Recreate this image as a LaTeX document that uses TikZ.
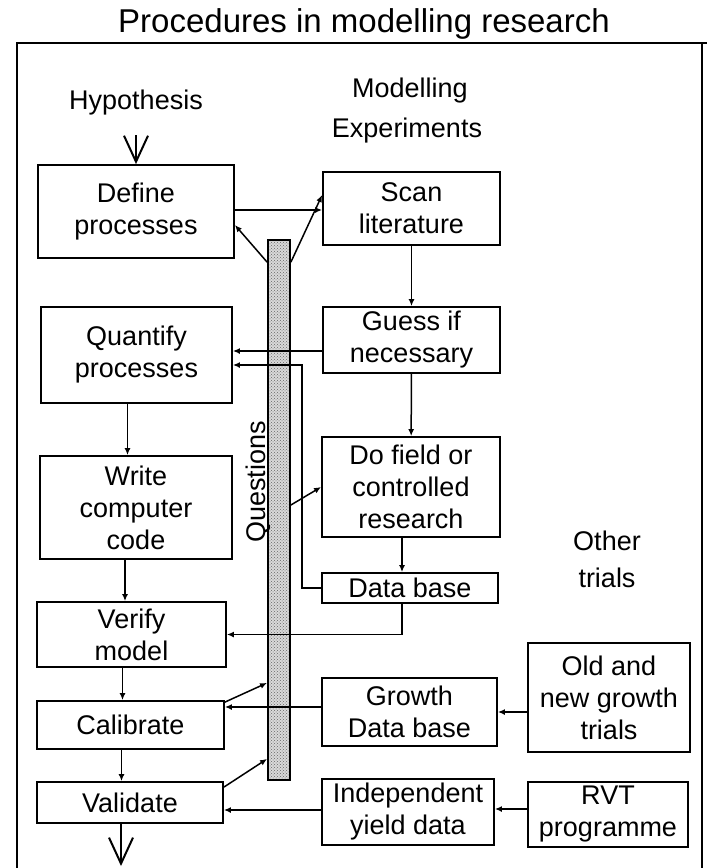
\documentclass[tikz,border=0pt]{standalone}
\usepackage{fontspec}
\setmainfont{Liberation Sans}
\usetikzlibrary{arrows.meta,patterns}

\begin{document}
\begin{tikzpicture}[x=1pt, y=-1pt,
    procbox/.style={rectangle, draw, line width=1.8pt, inner sep=0pt, align=center, font=\fontsize{27}{32}\selectfont},
    lbl/.style={font=\fontsize{27}{32}\selectfont, inner sep=0pt, anchor=base},
    arr/.style={-{Latex[length=7pt,width=6pt]}, line width=1.5pt},
    bigv/.style={-{Straight Barb[length=26pt,width=24pt,line width=2pt]}, line width=1.6pt}]
                \useasboundingbox (0,0) rectangle (707,868);

                % Title and frame
                \node[lbl, font=\fontsize{33}{38}\selectfont] (title) at (364,32) {Procedures in modelling research};
                \draw[line width=1.8pt] (17,868) -- (17,43) -- (707,43);
                \draw[line width=1.8pt] (702,43) -- (702,868);

                \node[lbl] (hyp) at (136,109) {Hypothesis};
                \node[lbl] (modelling) at (410,97) {Modelling};
                \node[lbl] (experiments) at (407,137) {Experiments};
                \node[lbl] (other) at (607,550) {Other};
                \node[lbl] (trials) at (607,587) {trials};

                % Modelling column
                \node[procbox, minimum width=196, minimum height=93] (define) at (136,211.5)
                    {Define\\processes};
                \node[procbox, minimum width=191, minimum height=96] (quantify) at (136.5,355)
                    {Quantify\\processes};
                \node[procbox, minimum width=192, minimum height=103] (write) at (136,507.5)
                    {Write\\computer\\code};
                \node[procbox, minimum width=189, minimum height=65] (verify) at (131.5,634.5)
                    {Verify\\model};
                \node[procbox, minimum width=187, minimum height=48] (calibrate) at (130.5,725)
                    {Calibrate};
                \node[procbox, minimum width=186, minimum height=41] (validate) at (130,802.5)
                    {Validate};
                \coordinate (out) at (121,866);

                % Experiments column
                \node[procbox, minimum width=177, minimum height=73] (scan) at (411.5,208.5)
                    {Scan\\literature};
                \node[procbox, minimum width=177, minimum height=66] (guess) at (411.5,340)
                    {Guess if\\necessary};
                \node[procbox, minimum width=178, minimum height=100] (dofield) at (411,487)
                    {Do field or\\controlled\\research};
                \node[procbox, minimum width=176, minimum height=30] (database) at (410,588)
                    {Data base};
                \node[procbox, minimum width=175, minimum height=68] (growth) at (409.5,712)
                    {Growth\\Data base};
                \node[procbox, minimum width=172, minimum height=66] (indep) at (408,812)
                    {Independent\\yield data};

                % Other trials
                \node[procbox, minimum width=162, minimum height=109] (oldnew) at (609,697.5)
                    {Old and\\new growth\\trials};
                \node[procbox, minimum width=160, minimum height=65] (rvt) at (608,814.5)
                    {RVT\\programme};

                % Questions bar
                \node[rectangle, draw, line width=1.8pt, preaction={fill=gray!30}, pattern=crosshatch dots, pattern color=gray!80!black,
                    minimum width=22, minimum height=540] (bar) at (279,510) {};
                \node[lbl, anchor=center, rotate=90] (questions) at (258,482) {Questions};

                \draw[bigv] ([yshift=-26pt]hyp.base) -- (define.north);
                \draw[arr] ([yshift=1.5pt]define.east) -- ([yshift=1.5pt]define.east -| scan.west);
                \draw[arr] ([yshift=-23pt]bar.north west) -- ([yshift=-13.5pt]define.east);
                \draw[arr] ([yshift=-23pt]bar.north east) -- ([yshift=-24pt]scan.north west);

                \draw[arr] (scan) -- (guess);
                \draw[arr] ([yshift=-11pt]guess.west) -- ([yshift=-11pt]guess.west -| quantify.east);
                \draw[arr] (database.west) -- ++(-19,0) |- ([yshift=-10pt]quantify.east);
                \draw[arr] (guess) -- (dofield);
                \draw[arr] ([yshift=5pt]bar.east) -- (dofield.west);
                \draw[arr] ([xshift=-9pt]dofield.south) -- ([xshift=-9pt]dofield.south |- database.north);
                \draw[arr] ([xshift=-8pt]database.south) |- (verify.east);

                \draw[arr] ([xshift=-9pt]quantify.south) -- ([xshift=-9pt]quantify.south |- write.north);
                \draw[arr] ([xshift=-11pt]write.south) -- ([xshift=-11pt]write.south |- verify.north);
                \draw[arr] ([xshift=-9pt]verify.south) -- ([xshift=-9pt]verify.south |- calibrate.north);
                \draw[arr] ([xshift=-9pt]calibrate.south) -- ([xshift=-9pt]calibrate.south |- validate.north);
                \draw[bigv] ([xshift=-9pt]validate.south) -- (out);

                \draw[arr] ([yshift=5pt]growth.west) -- ([yshift=5pt]growth.west -| calibrate.east);
                \draw[arr] (oldnew.west |- growth.east) -- (growth.east);
                \draw[arr] ([yshift=-2pt]calibrate.north east) -- ([yshift=98pt]bar.south west);
                \draw[arr] ([yshift=-6pt]validate.north east) -- ([yshift=22pt]bar.south west);
                \draw[arr] ([yshift=2pt]indep.west) -- ([yshift=2pt]indep.west -| validate.east);
                \draw[arr] ([yshift=5.5pt]rvt.west) -- ([yshift=5.5pt]rvt.west -| indep.east);
            \end{tikzpicture}
\end{document}
